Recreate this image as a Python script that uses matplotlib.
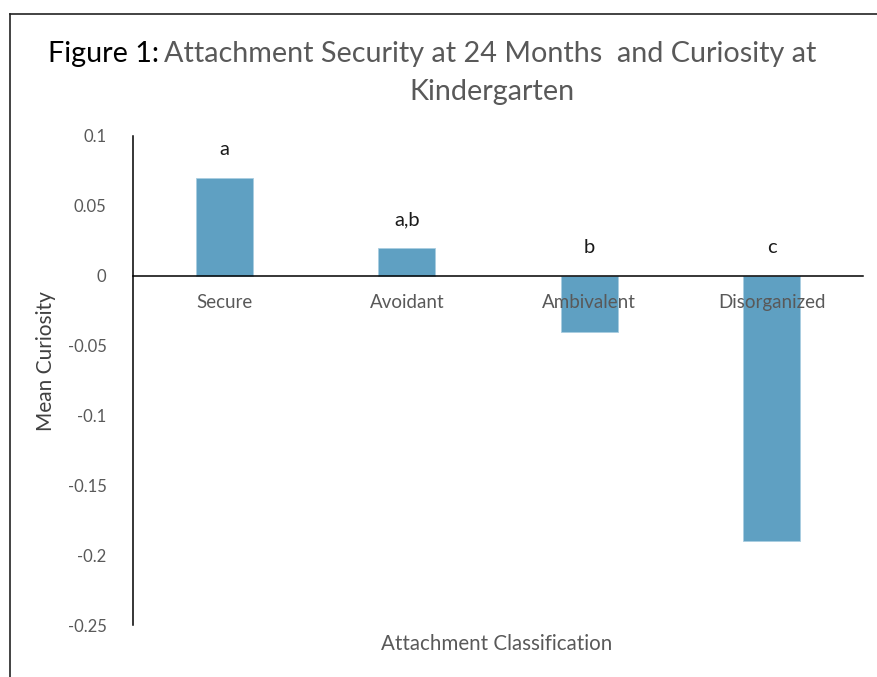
import matplotlib
matplotlib.use('Agg')
import matplotlib.pyplot as plt
from matplotlib.lines import Line2D

plt.rcParams['font.family'] = ['Lato', 'DejaVu Sans']

categories = ['Secure', 'Avoidant', 'Ambivalent', 'Disorganized']
mean_curiosity = [0.07, 0.02, -0.04, -0.19]
group_letters = ['a', 'a,b', 'b', 'c']
yticks = [0.1, 0.05, 0, -0.05, -0.1, -0.15, -0.2, -0.25]
ytick_labels = ['0.1', '0.05', '0', '-0.05', '-0.1', '-0.15', '-0.2', '-0.25']

GRAY = '#595959'
BAR = '#5fa0c2'

fig = plt.figure(figsize=(8.77, 6.77), dpi=100)
ax = fig.add_axes([133/877, 1-625/677, 730/877, 489/677])

x = range(len(categories))
ax.bar(x, mean_curiosity, width=0.31, color=BAR, edgecolor='#a9cde0', linewidth=0.6, zorder=1)
ax.set_axisbelow(False)
ax.set_xlim(-0.5, 3.5)
ax.set_ylim(-0.25, 0.1)

ax.spines['right'].set_visible(False)
ax.spines['top'].set_visible(False)
ax.spines['bottom'].set_position(('data', 0))
for s in ('left', 'bottom'):
    ax.spines[s].set_linewidth(1.1)
    ax.spines[s].set_color('black')

ax.set_yticks(yticks)
ax.set_yticklabels(ytick_labels, fontsize=12, color=GRAY)
ax.tick_params(axis='y', length=0, pad=19)
ax.set_xticks(list(x))
ax.set_xticklabels(categories, fontsize=13.5, color=GRAY)
ax.tick_params(axis='x', length=0, pad=13)

for i, (v, lab) in enumerate(zip(mean_curiosity, group_letters)):
    ax.text(i, max(v, 0) + 0.02, lab, ha='center', va='center', fontsize=14.5, color='#1a1a1a')

ax.set_ylabel('Mean Curiosity', fontsize=15, color='#404040', labelpad=0)
ax.yaxis.set_label_coords(-0.105, 0.54)
fig.text(497/877, 1-644/677, 'Attachment Classification', ha='center', va='center',
         fontsize=14.8, color=GRAY)

# title in two colours
t1 = fig.text(48/877, 1-54/677, 'Figure 1:', ha='left', va='center', fontsize=20.7, color='black')
fig.canvas.draw()
bb = t1.get_window_extent()
fig.text((bb.x1 + 5)/877, 1-54/677, 'Attachment Security at 24 Months  and Curiosity at',
         ha='left', va='center', fontsize=20.7, color=GRAY)
fig.text(492/877, 1-92/677, 'Kindergarten', ha='center', va='center', fontsize=20.7, color=GRAY)

# frame lines of the original box
fig.add_artist(Line2D([10/877, 10/877], [0, 1-14/677], color='#222222', lw=1.2))
fig.add_artist(Line2D([10/877, 1], [1-14/677, 1-14/677], color='#222222', lw=1.2))

fig.savefig('out.png', dpi=100)
